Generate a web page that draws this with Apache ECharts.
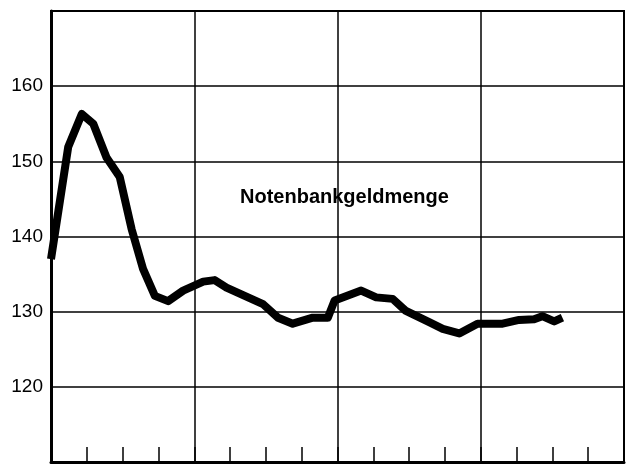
<!DOCTYPE html>
<html>
<head>
<meta charset="utf-8">
<script src="https://cdn.jsdelivr.net/npm/echarts@6/dist/echarts.min.js"></script>
<style>
  html, body { margin: 0; padding: 0; background: #fff; }
  #chart { width: 626px; height: 473px; }
</style>
</head>
<body>
<div id="chart"></div>
<script>
// x position in quarter steps (0..16)
var xPos = [0, 0.48, 0.86, 1.18, 1.55, 1.92, 2.25, 2.57, 2.9, 3.27, 3.69, 4.25, 4.57, 4.9,
    5.92, 6.34, 6.75, 7.31, 7.73, 7.92, 8.66, 9.08, 9.54, 9.91, 10.56, 10.94, 11.4,
    11.91, 12.61, 13.07, 13.49, 13.72, 14.05, 14.28];
var values = [137, 151.9, 156.3, 155, 150.5, 147.9, 141, 135.7, 132.1, 131.4, 132.8, 134, 134.2, 133.2,
    131, 129.2, 128.4, 129.2, 129.2, 131.5, 132.8, 131.9, 131.7, 130.1, 128.6, 127.7, 127.1,
    128.4, 128.4, 128.9, 129, 129.4, 128.7, 129.2];
var yLabels = [120, 130, 140, 150, 160];
var seriesName = 'Notenbankgeldmenge';

var myChart = echarts.init(document.getElementById('chart'));

var points = xPos.map(function (x, i) { return [x, values[i]]; });

var option = {
    backgroundColor: '#fff',
    animation: false,
    grid: {
        left: 51,
        right: 2,
        top: 11,
        bottom: 11,
        show: true,
        borderColor: '#000',
        borderWidth: 2
    },
    xAxis: {
        type: 'value',
        min: 0,
        max: 16,
        interval: 4,
        axisLine: { show: true, lineStyle: { color: '#000', width: 3 } },
        axisTick: { show: true, inside: true, length: 15, lineStyle: { color: '#000', width: 1.5 } },
        minorTick: { show: true, splitNumber: 4, length: 15, lineStyle: { color: '#000', width: 1.5 } },
        axisLabel: { show: false },
        splitLine: { show: true, lineStyle: { color: '#000', width: 1.5 } }
    },
    yAxis: {
        type: 'value',
        min: 110,
        max: 170,
        interval: 10,
        axisLine: { show: true, lineStyle: { color: '#000', width: 3 } },
        axisTick: { show: false },
        axisLabel: {
            color: '#000',
            fontFamily: 'Liberation Sans',
            fontSize: 19,
            margin: 8,
            formatter: function (v) { return yLabels.indexOf(v) >= 0 ? String(v) : ''; }
        },
        splitLine: { show: true, lineStyle: { color: '#000', width: 1.5 } }
    },
    graphic: [{
        type: 'text',
        left: 240,
        top: 187,
        style: {
            text: seriesName,
            fill: '#000',
            font: 'bold 20px "Liberation Sans"'
        }
    }],
    series: [{
        name: seriesName,
        type: 'line',
        data: points,
        showSymbol: false,
        lineStyle: { color: '#000', width: 8, join: 'round' }
    }]
};

myChart.setOption(option);
</script>
</body>
</html>
